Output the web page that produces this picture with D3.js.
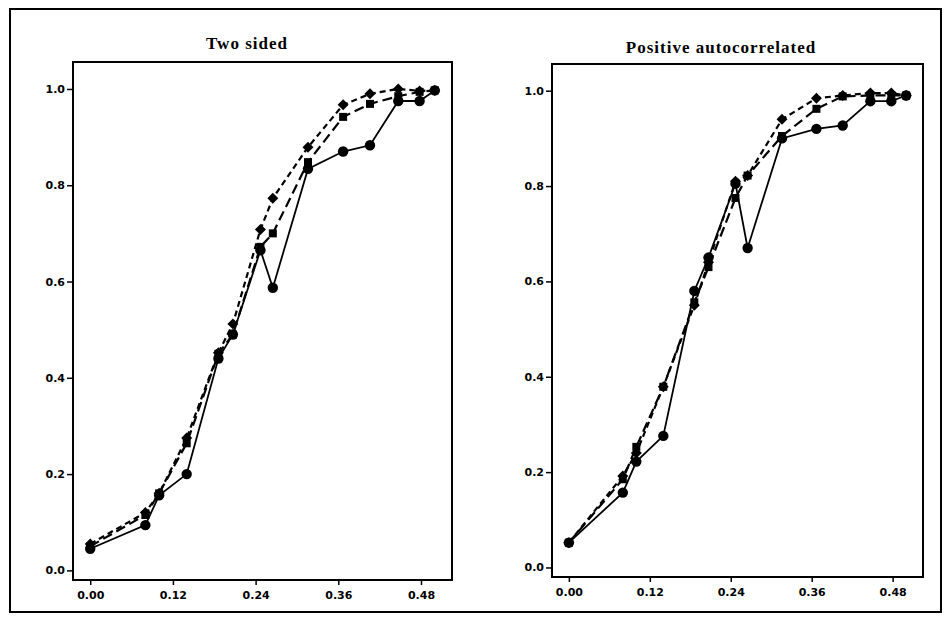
<!DOCTYPE html>
<meta charset="utf-8">
<style>
  body { margin: 0; background: #fff; }
  .tick text { font-family: "DejaVu Sans", sans-serif; font-weight: bold; font-size: 11px; fill: #000; }
  .title { font-family: "Liberation Serif", serif; font-weight: bold; font-size: 17px; letter-spacing: 1px; }
</style>
<body>
  <svg width="945" height="617"></svg>
</body>
<script src="https://cdnjs.cloudflare.com/ajax/libs/d3/7.8.5/d3.min.js"></script>
<script>

    // data
    var xVals = [0, 0.08, 0.10, 0.14, 0.186, 0.207, 0.247, 0.265, 0.316, 0.367, 0.406, 0.447, 0.478, 0.50];

    var twoCircle  = [0.045, 0.094, 0.156, 0.200, 0.440, 0.490, 0.665, 0.587, 0.834, 0.870, 0.883, 0.975, 0.975, 0.997];
    var twoSquare  = [0.050, 0.115, 0.160, 0.264, 0.450, 0.490, 0.672, 0.700, 0.848, 0.942, 0.969, 0.985, 0.994, 0.997];
    var twoDiamond = [0.055, 0.120, 0.160, 0.275, 0.452, 0.512, 0.708, 0.773, 0.879, 0.967, 0.990, 1.000, 0.996, 0.997];

    var posCircle  = [0.052, 0.157, 0.222, 0.276, 0.580, 0.650, 0.805, 0.670, 0.900, 0.920, 0.927, 0.978, 0.978, 0.990];
    var posSquare  = [0.052, 0.185, 0.253, 0.379, 0.556, 0.630, 0.775, 0.822, 0.905, 0.962, 0.988, 0.990, 0.990, 0.990];
    var posDiamond = [0.052, 0.192, 0.240, 0.379, 0.550, 0.640, 0.810, 0.822, 0.940, 0.984, 0.990, 0.995, 0.995, 0.990];

    var titles = ["Two sided", "Positive autocorrelated"];
    var xTicks = [0, 0.12, 0.24, 0.36, 0.48];
    var yTicks = [0, 0.2, 0.4, 0.6, 0.8, 1.0];

    var svg = d3.select("svg");

    // outer border of the figure
    svg.append("rect")
        .attr("x", 10).attr("y", 9)
        .attr("width", 931).attr("height", 603)
        .attr("fill", "none")
        .attr("stroke", "#000")
        .attr("stroke-width", 2);

    var panels = [
        { title: titles[0], left: 73, right: 452, top: 62, bottom: 580, titleX: 247, titleY: 49,
          series: [twoCircle, twoSquare, twoDiamond] },
        { title: titles[1], left: 552, right: 923, top: 64, bottom: 577, titleX: 721, titleY: 53,
          series: [posCircle, posSquare, posDiamond] }
    ];

    var styles = [
        { dash: null,   symbol: d3.symbolCircle, size: 85, rot: 0 },
        { dash: "10,5", symbol: d3.symbolSquare, size: 64, rot: 0 },
        { dash: "6,4",  symbol: d3.symbolSquare, size: 60, rot: 45 }
    ];

    panels.forEach(function(p) {
        var x = d3.scaleLinear().domain([-0.025, 0.525]).range([p.left, p.right]);
        var y = d3.scaleLinear().domain([-0.02, 1.056]).range([p.bottom, p.top]);

        var g = svg.append("g");

        g.append("rect")
            .attr("x", p.left).attr("y", p.top)
            .attr("width", p.right - p.left).attr("height", p.bottom - p.top)
            .attr("fill", "#fff")
            .attr("stroke", "#000")
            .attr("stroke-width", 2);

        g.append("text")
            .attr("class", "title")
            .attr("x", p.titleX)
            .attr("y", p.titleY)
            .attr("text-anchor", "middle")
            .text(p.title);

        var yAxis = g.append("g")
            .attr("transform", "translate(" + p.left + ",0)")
            .call(d3.axisLeft(y).tickValues(yTicks).tickFormat(d3.format(".1f")).tickSize(6).tickPadding(2));
        yAxis.select(".domain").remove();
        yAxis.selectAll(".tick line").attr("stroke-width", 1.5);

        var xAxis = g.append("g")
            .attr("transform", "translate(0," + p.bottom + ")")
            .call(d3.axisBottom(x).tickValues(xTicks).tickFormat(d3.format(".2f")).tickSize(5).tickPadding(6));
        xAxis.select(".domain").remove();
        xAxis.selectAll(".tick line").attr("stroke-width", 1.5);

        var line = d3.line()
            .x(function(d) { return x(d[0]); })
            .y(function(d) { return y(d[1]); });

        p.series.forEach(function(vals, i) {
            var pts = xVals.map(function(xv, j) { return [xv, vals[j]]; });
            var st = styles[i];

            g.append("path")
                .datum(pts)
                .attr("d", line)
                .attr("fill", "none")
                .attr("stroke", "#000")
                .attr("stroke-width", i == 0 ? 1.8 : 2.2)
                .attr("stroke-dasharray", st.dash);

            g.selectAll(".m" + i)
                .data(pts)
                .enter()
                .append("path")
                .attr("d", d3.symbol().type(st.symbol).size(st.size))
                .attr("transform", function(d) {
                    return "translate(" + x(d[0]) + "," + y(d[1]) + ") rotate(" + st.rot + ")";
                })
                .attr("fill", "#000");
        });
    });

</script>
